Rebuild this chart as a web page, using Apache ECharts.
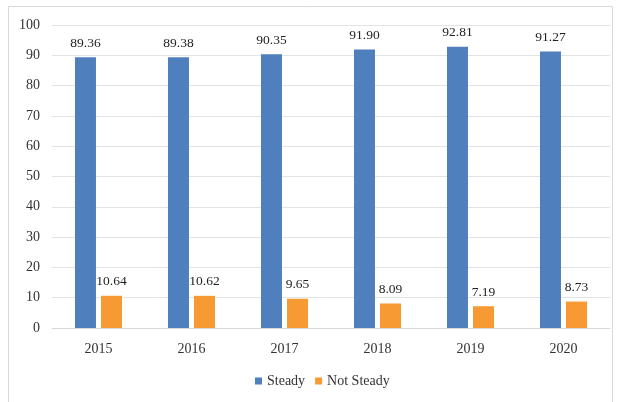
<!DOCTYPE html>
<html>
<head>
<meta charset="utf-8">
<script src="https://cdn.jsdelivr.net/npm/echarts@6/dist/echarts.min.js"></script>
<style>
  html, body { margin: 0; padding: 0; background: #fff; }
  #main { width: 621px; height: 402px; }
</style>
</head>
<body>
<div id="main"></div>
<script>
const years = ['2015', '2016', '2017', '2018', '2019', '2020'];
const steady = [89.36, 89.38, 90.35, 91.90, 92.81, 91.27];
const notSteady = [10.64, 10.62, 9.65, 8.09, 7.19, 8.73];

const chart = echarts.init(document.getElementById('main'));
const font = '"Liberation Serif", "Times New Roman", serif';

const labelStyle = {
  show: true,
  position: 'top',
  distance: 7,
  fontFamily: font,
  fontSize: 13.5,
  color: '#222',
  formatter: p => p.value.toFixed(2)
};

chart.setOption({
  animation: false,
  textStyle: { fontFamily: font },
  graphic: [{
    type: 'rect',
    shape: { x: 8.5, y: 6.5, width: 604, height: 420 },
    style: { fill: 'none', stroke: '#d9d9d9', lineWidth: 1 }
  }],
  grid: { left: 52, right: 11, top: 25, bottom: 74 },
  legend: {
    left: 250,
    bottom: 9,
    itemWidth: 7,
    itemHeight: 7,
    itemGap: 10,
    icon: 'rect',
    textStyle: { fontFamily: font, fontSize: 14, color: '#333' },
    data: ['Steady', 'Not Steady']
  },
  xAxis: {
    type: 'category',
    data: years,
    axisLine: { lineStyle: { color: '#d9d9d9' } },
    axisTick: { show: false },
    axisLabel: { fontFamily: font, fontSize: 14, color: '#333', margin: 14 }
  },
  yAxis: {
    type: 'value',
    min: 0,
    max: 100,
    interval: 10,
    axisLine: { show: false },
    axisTick: { show: false },
    splitLine: { lineStyle: { color: '#e3e3e3' } },
    axisLabel: { fontFamily: font, fontSize: 14, color: '#333', margin: 12 }
  },
  series: [{
    name: 'Steady',
    type: 'bar',
    data: steady,
    barWidth: 21,
    barGap: '24%',
    itemStyle: { color: '#4f7fbd' },
    label: labelStyle
  }, {
    name: 'Not Steady',
    type: 'bar',
    data: notSteady,
    barWidth: 21,
    itemStyle: { color: '#f89a33' },
    label: labelStyle
  }]
});

window.addEventListener('resize', function () {
  chart.resize();
});
</script>
</body>
</html>
